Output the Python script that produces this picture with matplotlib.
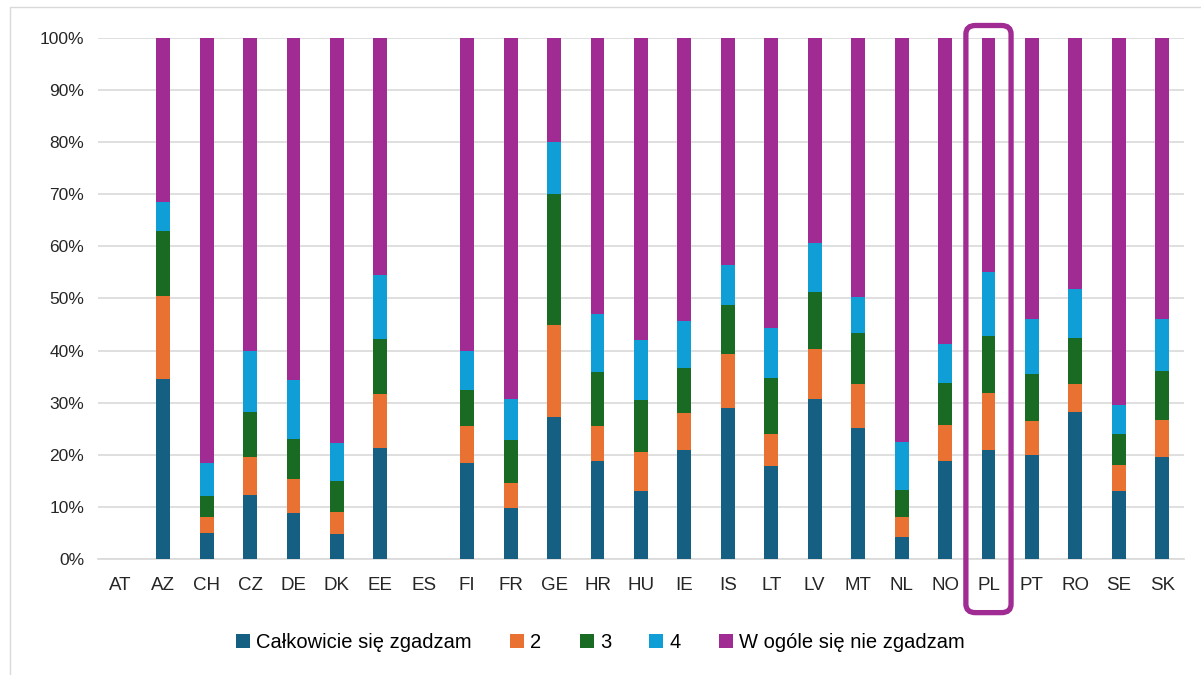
import matplotlib.pyplot as plt
import numpy as np
from matplotlib.patches import FancyBboxPatch, Rectangle

countries = ["AT", "AZ", "CH", "CZ", "DE", "DK", "EE", "ES", "FI", "FR", "GE", "HR", "HU",
             "IE", "IS", "LT", "LV", "MT", "NL", "NO", "PL", "PT", "RO", "SE", "SK"]

# shares in %, per answer category
agree_full = [0, 34.5, 5.0, 12.3, 8.8, 4.8, 21.3, 0, 18.4, 9.8, 27.3, 18.8, 13.0,
              21.0, 29.0, 17.9, 30.7, 25.2, 4.3, 18.9, 21.0, 20.0, 28.3, 13.1, 19.6]
ans_2 = [0, 16.0, 3.0, 7.2, 6.5, 4.2, 10.4, 0, 7.2, 4.8, 17.7, 6.7, 7.5,
         7.0, 10.3, 6.1, 9.6, 8.3, 3.7, 6.8, 10.8, 6.4, 5.2, 5.0, 7.1]
ans_3 = [0, 12.5, 4.0, 8.8, 7.7, 6.0, 10.5, 0, 6.9, 8.2, 25.0, 10.3, 10.0,
         8.6, 9.4, 10.8, 10.9, 9.9, 5.3, 8.1, 11.0, 9.1, 8.9, 5.9, 9.4]
ans_4 = [0, 5.5, 6.5, 11.7, 11.3, 7.3, 12.3, 0, 7.5, 7.9, 10.0, 11.2, 11.5,
         9.0, 7.8, 9.5, 9.5, 6.9, 9.1, 7.5, 12.2, 10.5, 9.4, 5.6, 9.9]
disagree_full = [0, 31.5, 81.5, 60.0, 65.7, 77.7, 45.5, 0, 60.0, 69.3, 20.0, 53.0, 58.0,
                 54.4, 43.5, 55.7, 39.3, 49.7, 77.6, 58.7, 45.0, 54.0, 48.2, 70.4, 54.0]

labels = ["Całkowicie się zgadzam", "2", "3", "4", "W ogóle się nie zgadzam"]
colors = ["#156082", "#E97132", "#196B24", "#0F9ED5", "#A02B93"]
highlight = "PL"

plt.rcParams["font.family"] = ["Liberation Sans", "DejaVu Sans"]

fig = plt.figure(figsize=(12.01, 6.75), dpi=100)
ax = fig.add_axes([0.0816, 0.1719, 0.9042, 0.7718])

x = np.arange(len(countries))
bottom = np.zeros(len(countries))
for vals, lab, col in zip([agree_full, ans_2, ans_3, ans_4, disagree_full], labels, colors):
    vals = np.array(vals, dtype=float)
    ax.bar(x, vals, bottom=bottom, width=0.32, color=col, label=lab,
           linewidth=0, zorder=3)
    bottom += vals

ax.set_xlim(-0.5, len(countries) - 0.5)
ax.set_ylim(0, 100)
ax.set_yticks(np.arange(0, 101, 10))
ax.set_yticklabels([f"{v}%" for v in range(0, 101, 10)])
ax.set_xticks(x)
ax.set_xticklabels(countries)
ax.tick_params(axis="both", length=0, labelsize=12.5, colors="#262626")
ax.tick_params(axis="x", labelsize=13.5, pad=13)
ax.tick_params(axis="y", pad=10)
ax.grid(axis="y", color="#D9D9D9", linewidth=1.2, zorder=0)
for s in ["top", "right", "left"]:
    ax.spines[s].set_visible(False)
ax.spines["bottom"].set_color("#D9D9D9")
ax.spines["bottom"].set_linewidth(1.2)

# highlight box around PL
i = countries.index(highlight)
box = FancyBboxPatch((i - 0.52, -10.3), 1.04, 112.7,
                     boxstyle="round,pad=0,rounding_size=0.22",
                     fill=False, edgecolor="#A02B93", linewidth=3.8,
                     clip_on=False, zorder=5, mutation_aspect=7.5)
ax.add_patch(box)

fig.legend(loc="center", bbox_to_anchor=(0.5, 0.048), ncol=5, frameon=False,
           fontsize=14.5, handlelength=0.7, handleheight=0.7, handletextpad=0.3,
           columnspacing=1.9)

fig.patches.append(Rectangle((0.008, -0.01), 1.0, 1.0, transform=fig.transFigure,
                             fill=False, edgecolor="#D9D9D9", linewidth=1))

fig.savefig("out.png", dpi=100)
